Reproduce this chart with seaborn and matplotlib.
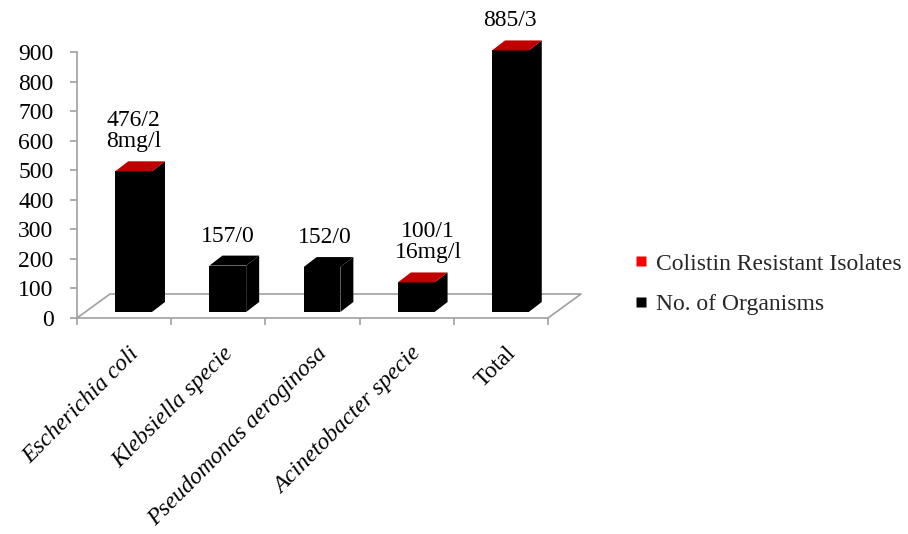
import numpy as np
import pandas as pd
import matplotlib
matplotlib.use("Agg")
import matplotlib.pyplot as plt
import seaborn as sns
from matplotlib.patches import Polygon
from matplotlib.lines import Line2D
from matplotlib.transforms import IdentityTransform

# ---------------- data ----------------
categories = ["Escherichia coli", "Klebsiella specie", "Pseudomonas aeroginosa",
              "Acinetobacter specie", "Total"]
organisms = [476, 157, 152, 100, 885]
resistant = [2, 0, 0, 1, 3]
mic_labels = ["8mg/l", "", "", "16mg/l", ""]
yticks = [0, 100, 200, 300, 400, 500, 600, 700, 800, 900]
legend_labels = ["Colistin Resistant Isolates", "No. of Organisms"]

# ---------------- style ----------------
sns.set_theme(style="white")
plt.rcParams['font.family'] = ['Liberation Serif', 'DejaVu Serif']
FS = 17
GREY = "#A0A0A0"
TOP_RED = "#C00000"
LEG_RED = "#FF0000"
W, H = 908, 534

fig = plt.figure(figsize=(W / 100, H / 100), dpi=100)
fig.patch.set_facecolor("white")

# axis frame (floor front edge + vertical axis)
ax = fig.add_axes([77 / W, (H - 318) / H, 471 / W, 266 / H])
ax.patch.set_visible(False)
ax.set_xlim(-0.5, 4.5)
ax.set_ylim(0, 900)
ax.set_yticks(yticks)
ax.set_yticklabels([str(v) for v in yticks], fontsize=FS, color="black")
ax.set_xticks(np.arange(-0.5, 5.0, 1.0))
ax.set_xticklabels([])
for s in ["top", "right"]:
    ax.spines[s].set_visible(False)
for s in ["left", "bottom"]:
    ax.spines[s].set_color(GREY)
    ax.spines[s].set_linewidth(1.2)
ax.tick_params(axis="y", length=5, width=1.2, color=GREY, pad=12, left=True)
ax.tick_params(axis="x", length=5, width=1.2, color=GREY, bottom=True)

# bars (placed at mid-depth of the 3D floor)
ax2 = fig.add_axes([86.5 / W, (H - 312) / H, 471 / W, 266 / H])
ax2.patch.set_visible(False)
df = pd.DataFrame({"Organism": categories, "Count": organisms})
sns.barplot(data=df, x="Organism", y="Count", ax=ax2, color="black",
            width=0.39, saturation=1, edgecolor="none", linewidth=0)
ax2.set_xlim(-0.5, 4.5)
ax2.set_ylim(0, 900)
ax2.axis("off")

fig.canvas.draw()

# floor (3D depth)
DX, DY = 33, 24
p0 = ax.transData.transform((-0.5, 0))
p1 = ax.transData.transform((4.5, 0))
floor_x = [p0[0], p0[0] + DX, p1[0] + DX, p1[0]]
floor_y = [p0[1], p0[1] + DY, p1[1] + DY, p1[1]]
ax.add_line(Line2D(floor_x, floor_y, transform=IdentityTransform(),
                   color=GREY, lw=1.2, clip_on=False))

# 3D faces of bars
BDX, BDY = 13, 10
for patch, res in zip(ax2.patches, resistant):
    bb = patch.get_window_extent()
    x0, y0, x1, y1 = bb.x0, bb.y0, bb.x1, bb.y1
    side = Polygon([(x1, y0), (x1 + BDX, y0 + BDY), (x1 + BDX, y1 + BDY), (x1, y1)],
                   closed=True, transform=IdentityTransform(), facecolor="black",
                   edgecolor="none", clip_on=False)
    top = Polygon([(x0, y1), (x1, y1), (x1 + BDX, y1 + BDY), (x0 + BDX, y1 + BDY)],
                  closed=True, transform=IdentityTransform(),
                  facecolor=TOP_RED if res > 0 else "black",
                  edgecolor="none", clip_on=False)
    ax2.add_patch(side)
    ax2.add_patch(top)

# value labels
label_dx = [0, 0, 3, 12, 0]
for i, (org, res, mic) in enumerate(zip(organisms, resistant, mic_labels)):
    txt = f"{org}/{res}" + (f"\n{mic}" if mic else "")
    ax2.annotate(txt, xy=(i, org), xytext=(label_dx[i], 19), textcoords="offset pixels",
                 ha="center", va="bottom", fontsize=FS, color="black",
                 linespacing=1.0, annotation_clip=False)

# category labels
for i, cat in enumerate(categories):
    style = "normal" if cat == "Total" else "italic"
    ax.annotate(cat, xy=(i, 0), xytext=(4, -25), textcoords="offset pixels",
                ha="right", va="top", rotation=45, rotation_mode="anchor",
                fontsize=17, fontstyle=style, color="black", annotation_clip=False)

# legend
handles = [Line2D([], [], marker="s", linestyle="none", markerfacecolor=c,
                  markeredgecolor="none", markersize=7.5)
           for c in [LEG_RED, "black"]]
fig.legend(handles, legend_labels, loc="center left",
           bbox_to_anchor=(634 / W, 1 - 284 / H), frameon=False, fontsize=FS,
           handlelength=0.6, handletextpad=0.35, labelspacing=0.8,
           borderpad=0, borderaxespad=0)

fig.savefig("out.png", dpi=100, facecolor="white")
